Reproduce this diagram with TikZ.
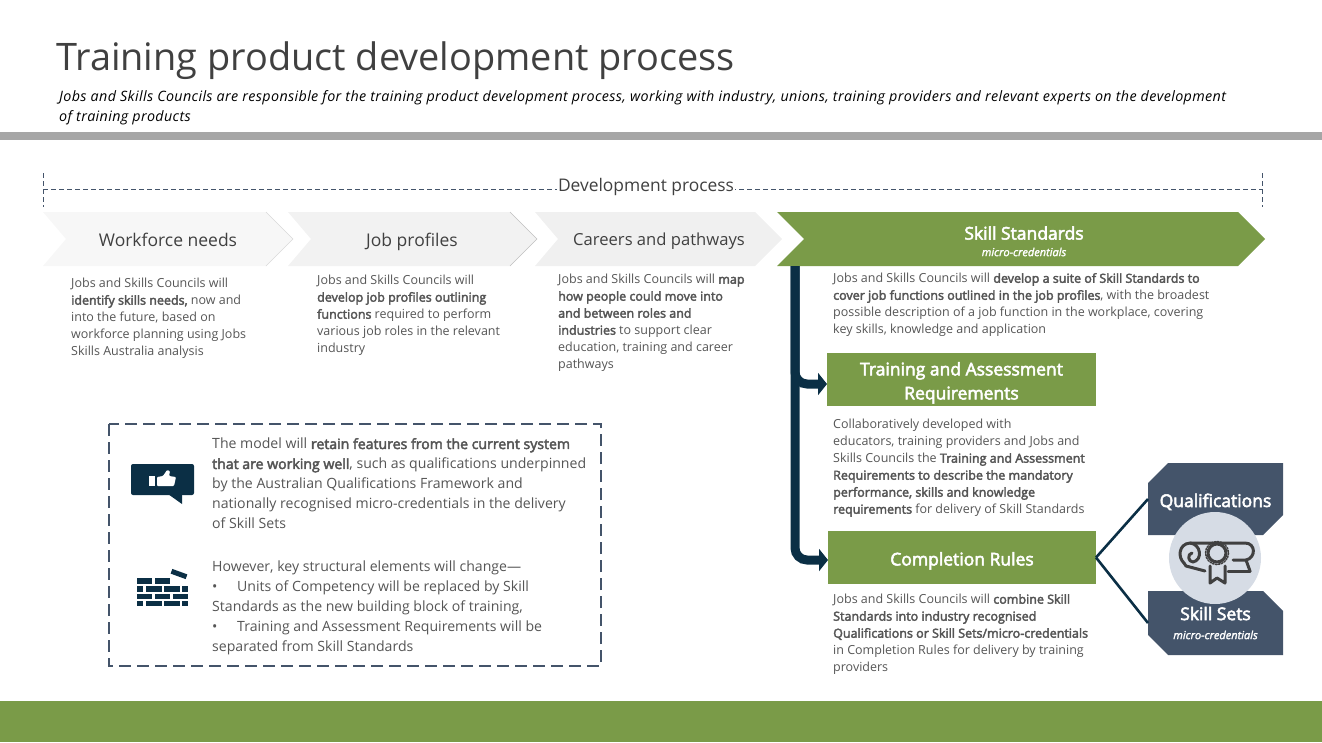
\documentclass[tikz,border=0pt]{standalone}
\usepackage{fontspec}
\setmainfont{Open Sans}[BoldFont=*,BoldFeatures={FakeBold=3},BoldItalicFont=* Italic,BoldItalicFeatures={FakeBold=2}]
\usetikzlibrary{arrows.meta,shapes.misc}
\definecolor{leaf}{HTML}{7A9B48}
\definecolor{slate}{HTML}{44546A}
\definecolor{navy}{HTML}{0B2F45}
\definecolor{body}{HTML}{555555}
\definecolor{ink}{HTML}{404040}
\definecolor{mist}{HTML}{D6DCE5}
\tikzset{
  bodytext/.style={anchor=north west,inner sep=0,align=left,text=body,font=\fontsize{12.5}{17}\selectfont},
  boxtext/.style={anchor=north west,inner sep=0,align=left,text=body,font=\fontsize{14.1}{20}\selectfont},
  head/.style={anchor=base,inner sep=0,text=ink,font=\fontsize{17.5}{20}\selectfont},
  greenbox/.style={fill=leaf,inner sep=0,outer sep=0,text=white,align=center,font=\fontsize{17.5}{24}\selectfont\bfseries},
  slatebox/.style={chamfered rectangle,chamfered rectangle xsep=10pt,chamfered rectangle ysep=10pt,fill=slate,inner sep=0,outer sep=0,minimum width=135pt,text=white,align=center,font=\fontsize{17.5}{20}\selectfont\bfseries},
  branch/.style={navy,line width=9pt,rounded corners=12pt,-{Triangle[length=9pt,width=22pt]}},
  leafline/.style={navy,line width=2.6pt},
  spanline/.style={slate,dash pattern=on 5pt off 3pt,line width=.7pt},
}
\newcommand{\microtext}{{\fontsize{11}{12}\selectfont\bfseries\itshape micro-credentials}}
\newcommand{\dotitem}{\makebox[25pt][l]{•}}
\begin{document}
\begin{tikzpicture}[x=1pt,y=-1pt]
\useasboundingbox (0,0) rectangle (1322,742);
% title
\node[anchor=west,inner sep=0,text=ink,font=\fontsize{37.9}{40}\selectfont] (title) at (56,61) {Training product development process};
\node[anchor=north west,inner sep=0,align=left,text=black,font=\fontsize{14.3}{20}\addfontfeature{LetterSpace=2.6}\selectfont\itshape] (subtitle) at (59,90) {Jobs and Skills Councils are responsible for the training product development process, working with industry, unions, training providers and relevant experts on the development\\of training products};
\fill[gray!70!white] (0,132) rectangle (1322,140);
\fill[leaf] (0,701) rectangle (1322,742);
% development process span
\coordinate (spanl) at (43,189);
\coordinate (spanr) at (1262,189);
\draw[spanline] (spanl) -- (spanr);
\draw[spanline] (43,173) -- (43,207);
\draw[spanline] (1262,173) -- (1262,207);
\node[fill=white,inner xsep=1pt,inner ysep=1pt,text=ink,font=\fontsize{17.4}{20}\selectfont] (spanlabel) at (646,187) {Development process};
% chevrons
\fill[black!3] (43,212) -- (266,212) -- (293,239) -- (266,266) -- (43,266) -- (66,239) -- cycle;
\fill[black!5] (288,212) -- (510,212) -- (537,239) -- (510,266) -- (288,266) -- (311,239) -- cycle;
\fill[black!6] (535,212) -- (755,212) -- (782,239) -- (755,266) -- (535,266) -- (558,239) -- cycle;
\fill[leaf] (777,212) -- (1238,212) -- (1265,239) -- (1238,266) -- (777,266) -- (804,239) -- cycle;
\draw[black!15] (266,212) -- (293,239) -- (266,266);
\draw[black!25] (510,212) -- (537,239) -- (510,266);
\node[head] (wfhead) at (168,246) {Workforce needs};
\node[head] (jobhead) at (412,246) {Job profiles};
\node[head,font=\fontsize{16.6}{20}\selectfont] (carhead) at (659,245) {Careers and pathways};
\node[inner sep=0,text=white,font=\fontsize{17.5}{20}\selectfont\bfseries] (sshead) at (1024,233) {Skill Standards};
\node[inner sep=0,text=white] (ssmicro) at (1024,252) {\microtext};
% column texts
\node[bodytext] (wftext) at (71,278) {Jobs and Skills Councils will\\\textbf{identify skills needs,} now and\\into the future, based on\\workforce planning using Jobs\\Skills Australia analysis};
\node[bodytext] (jobtext) at (317,275) {Jobs and Skills Councils will\\\textbf{develop job profiles outlining}\\\textbf{functions} required to perform\\various job roles in the relevant\\industry};
\node[bodytext] (cartext) at (558,274) {Jobs and Skills Councils will \textbf{map}\\\textbf{how people could move into}\\\textbf{and between roles and}\\\textbf{industries} to support clear\\education, training and career\\pathways};
\node[bodytext] (sstext) at (833,273) {Jobs and Skills Councils will \textbf{develop a suite of Skill Standards to}\\\textbf{cover job functions outlined in the job profiles}, with the broadest\\possible description of a job function in the workplace, covering\\key skills, knowledge and application};
% green boxes
\node[greenbox,minimum width=269pt,minimum height=53pt] (trainbox) at (961.5,379.5) {\rule{0pt}{20pt}Training and Assessment\\Requirements};
\node[greenbox,minimum width=268pt,minimum height=53pt] (compbox) at (962,557.5) {\rule{0pt}{20pt}Completion Rules};
\node[bodytext] (traintext) at (833,419) {Collaboratively developed with\\educators, training providers and Jobs and\\Skills Councils the \textbf{Training and Assessment}\\\textbf{Requirements to describe the mandatory}\\\textbf{performance, skills and knowledge}\\\textbf{requirements} for delivery of Skill Standards};
\node[bodytext] (comptext) at (833,594) {Jobs and Skills Councils will \textbf{combine Skill}\\\textbf{Standards into industry recognised}\\\textbf{Qualifications or Skill Sets/micro-credentials}\\in Completion Rules for delivery by training\\providers};
% branches out of the skill standards bar
\coordinate (spine) at (795,266);
\draw[branch] (spine) |- (trainbox.west |- 0,384);
\draw[branch] (spine) |- (compbox.west |- 0,560);
% qualifications
\node[slatebox,chamfered rectangle corners={north west,south east},minimum height=72pt] (qualbox) at (1215.5,499) {\rule{0pt}{19pt}Qualifications};
\node[slatebox,chamfered rectangle corners={north east,south west},minimum height=64pt] (setbox) at (1215.5,623) {Skill Sets\\[-1pt]\microtext};
\draw[leafline] (compbox.east) -- (qualbox.west);
\draw[leafline] (compbox.east) -- (setbox.west);
\fill[mist] (1215,558) circle (46);
% scroll icon
\begin{scope}[ink,line width=3pt,line cap=round,line join=round]
\draw (1184,563) .. controls (1178,558) and (1178,544) .. (1190,543) -- (1245,543) .. controls (1256,543) and (1256,558) .. (1246,560) -- (1233,560);
\draw (1190,543) .. controls (1201,544) and (1203,560) .. (1193,562) .. controls (1188,562) and (1187,554) .. (1192,553);
\draw (1184,563) -- (1186,566) -- (1205,571);
\draw (1228,571) -- (1250,571);
\draw (1246,560) -- (1250,571);
\draw[fill=mist] (1217,553) circle (9);
\draw[line width=1.6pt,dash pattern=on 1.5pt off 1.5pt] (1217,553) circle (11.5);
\draw (1210,566) -- (1210,583) -- (1217,578) -- (1225,583) -- (1225,566);
\end{scope}
% note box
\draw[slate,line width=1.8pt,dash pattern=on 12pt off 6pt] (109,424) rectangle (601,666);
\fill[navy,rounded corners=2pt] (131,464) rectangle (194,495);
\fill[navy] (168,494) -- (182,504) -- (182,494) -- cycle;
\fill[white] (149,476) rectangle (155,486);
\fill[white,rounded corners=1pt] (157,477) -- (163,476) -- (167,470) -- (170,471) -- (169,476) -- (176,477) -- (174,486) -- (157,486) -- cycle;
\foreach \x in {137,155}{\fill[navy] (\x,578) rectangle +(15,5.5);}
\foreach \y in {586,600.5}{
  \fill[navy] (137,\y) rectangle +(6,5.5);
  \fill[navy] (146,\y) rectangle +(16,5.5);
  \fill[navy] (164,\y) rectangle +(16,5.5);
  \fill[navy] (182,\y) rectangle +(6,5.5);
}
\foreach \x in {137,155,173}{\fill[navy] (\x,593.5) rectangle +(15,5);}
\fill[navy,rotate around={-20:(179,574)}] (171,571.5) rectangle (187,576.5);
\node[boxtext] (keeptext) at (212,438) {The model will \textbf{retain features from the current system}\\\textbf{that are working well}, such as qualifications underpinned\\by the Australian Qualifications Framework and\\nationally recognised micro-credentials in the delivery\\of Skill Sets};
\node[boxtext] (changetext) at (212,561) {However, key structural elements will change---\\\dotitem Units of Competency will be replaced by Skill\\Standards as the new building block of training,\\\dotitem Training and Assessment Requirements will be\\separated from Skill Standards};
\end{tikzpicture}
\end{document}
